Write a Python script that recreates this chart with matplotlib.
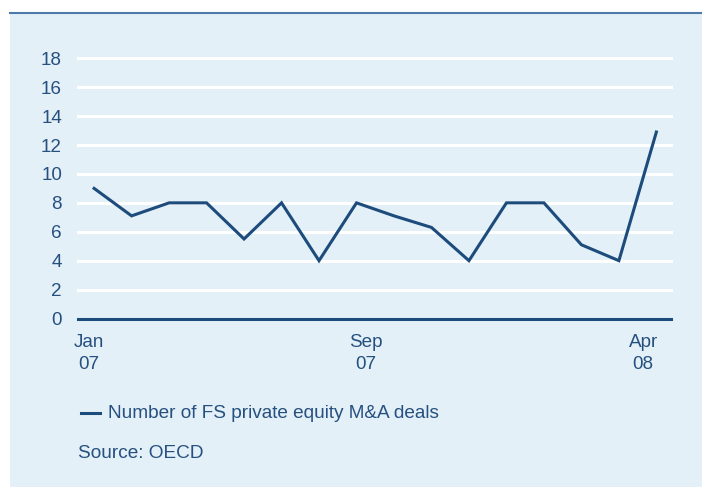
import matplotlib
matplotlib.use('Agg')
import matplotlib.pyplot as plt
from matplotlib.patches import Rectangle
from matplotlib.lines import Line2D

months = ['Jan 07', 'Feb 07', 'Mar 07', 'Apr 07', 'May 07', 'Jun 07', 'Jul 07', 'Aug 07',
          'Sep 07', 'Oct 07', 'Nov 07', 'Dec 07', 'Jan 08', 'Feb 08', 'Mar 08', 'Apr 08']
deals = [9, 7.1, 8, 8, 5.5, 8, 4, 8, 7.1, 6.3, 4, 8, 8, 5.1, 4, 12.9]
tick_labels = ['Jan\n07', 'Sep\n07', 'Apr\n08']
yticks = [0, 2, 4, 6, 8, 10, 12, 14, 16, 18]

bg = '#e3f0f8'
navy = '#1c4b7c'
txt = '#26507f'

plt.rcParams['font.family'] = ['Liberation Sans', 'DejaVu Sans']

fig = plt.figure(figsize=(7.02, 4.87), dpi=100)
W, H = 702, 487
# panel background and top rule
fig.patches.append(Rectangle((10 / W, 0), 1 - 10 / W, 1 - 12 / H, transform=fig.transFigure,
                             facecolor=bg, edgecolor='none', zorder=-10))
fig.lines.append(Line2D([10 / W, 1], [1 - 12.5 / H, 1 - 12.5 / H], transform=fig.transFigure,
                        color='#4d7aaa', lw=1.5, zorder=-5))

ax = fig.add_axes([78 / W, 1 - 318.5 / H, (671 - 78) / W, (318.5 - 58.3) / H])
ax.set_facecolor(bg)
x = list(range(len(deals)))
ax.set_xlim(-0.43, 15.39)
ax.set_ylim(0, 18)
for y in yticks[1:]:
    ax.axhline(y, color='white', lw=2.2, zorder=1, clip_on=False)
ax.axhline(0, color=navy, lw=2.2, zorder=3, clip_on=False)
ax.plot(x, deals, color=navy, lw=2.2, zorder=4, solid_joinstyle='miter')

for s in ax.spines.values():
    s.set_visible(False)
ax.set_yticks(yticks)
ax.set_yticklabels([str(v) for v in yticks])
ax.set_xticks([-0.15, 7.25, 14.65])
ax.set_xticklabels(tick_labels, linespacing=1.33)
ax.tick_params(axis='both', length=0, colors=txt, labelsize=13.6)
ax.tick_params(axis='y', pad=11.5)
ax.tick_params(axis='x', pad=11.5)

fig.lines.append(Line2D([81 / W, 100 / W], [1 - 413 / H, 1 - 413 / H], transform=fig.transFigure,
                        color=navy, lw=2.2))
fig.text(108 / W, 1 - 413 / H, 'Number of FS private equity M&A deals', color=txt,
         fontsize=13.7, va='center')
fig.text(78 / W, 1 - 454 / H, 'Source: OECD', color=txt, fontsize=13.7, va='center')

fig.savefig('out.png', dpi=100, facecolor='white')
